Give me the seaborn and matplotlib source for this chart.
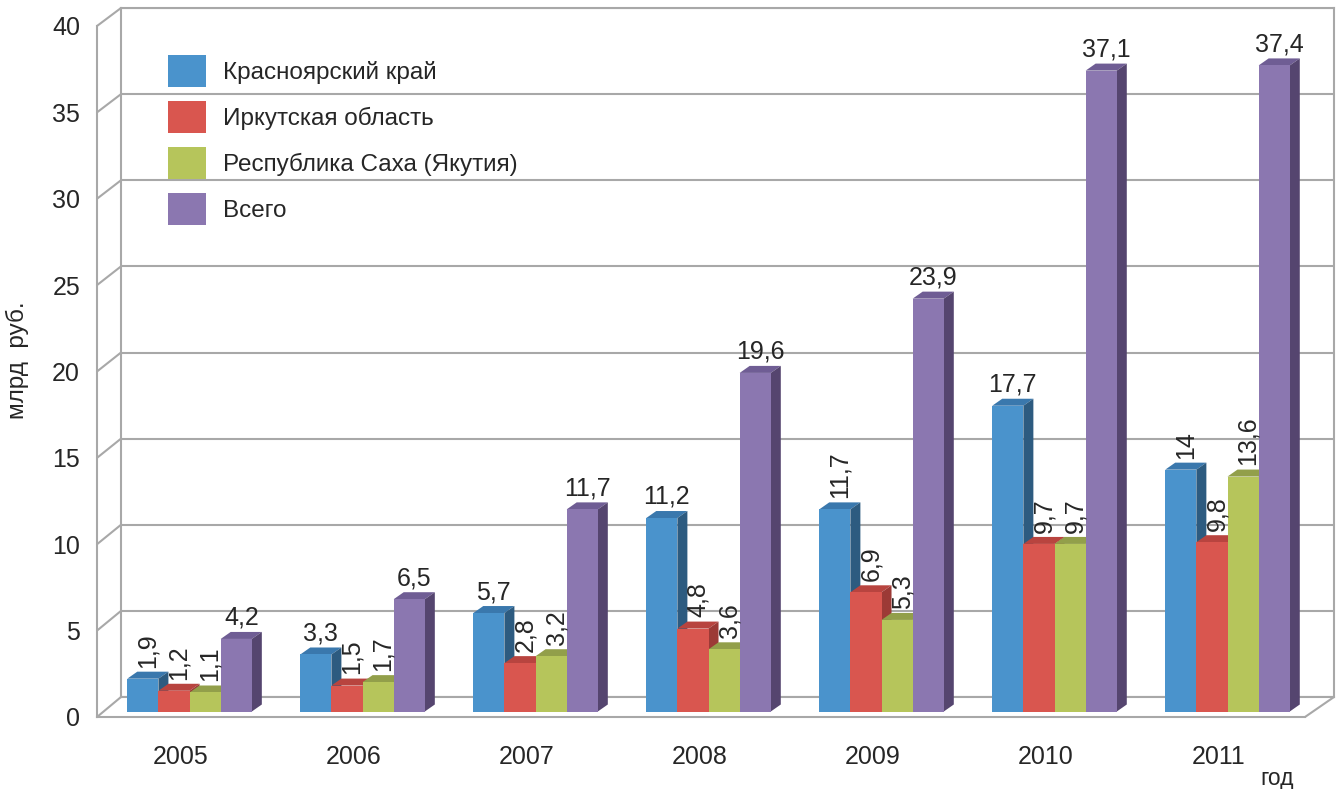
import matplotlib
matplotlib.use("Agg")
import matplotlib.pyplot as plt
import seaborn as sns
import pandas as pd
from matplotlib.patches import Polygon, Patch
from matplotlib.lines import Line2D

# --- data ---
years = ["2005", "2006", "2007", "2008", "2009", "2010", "2011"]
regions = ["Красноярский край", "Иркутская область",
           "Республика Саха (Якутия)", "Всего"]
krasnoyarsk = [1.9, 3.3, 5.7, 11.2, 11.7, 17.7, 14]
irkutsk = [1.2, 1.5, 2.8, 4.8, 6.9, 9.7, 9.8]
sakha = [1.1, 1.7, 3.2, 3.6, 5.3, 9.7, 13.6]
total = [4.2, 6.5, 11.7, 19.6, 23.9, 37.1, 37.4]
y_ticks = list(range(0, 41, 5))

front_colors = ["#4a93cc", "#d9564f", "#b6c55b", "#8b77b0"]
top_colors = ["#3a78ad", "#b8443f", "#929f4a", "#6f5d94"]
side_colors = ["#2d5b80", "#9c3a36", "#7e8b3e", "#55456f"]
grid_col = "#a8a8a8"

series = [krasnoyarsk, irkutsk, sakha, total]
df = pd.DataFrame({
    "год": years * 4,
    "регион": [r for r in regions for _ in years],
    "значение": krasnoyarsk + irkutsk + sakha + total,
})

sns.set_style("white")
plt.rcParams["font.family"] = ["Liberation Sans", "DejaVu Sans"]

W, H = 1340, 789
fig = plt.figure(figsize=(W / 100, H / 100), dpi=100)


def box(l, t, r, b):
    return [l / W, 1 - b / H, (r - l) / W, (b - t) / H]


ax_back = fig.add_axes(box(121, 8, 1334, 697), zorder=0)
ax = fig.add_axes(box(97, 26, 1305, 717), zorder=1)
ax_bar = fig.add_axes(box(106, 20.5, 1314, 711.5), zorder=2)

xlim = (-0.483, 6.5)
ylim = (0, 40)

# back wall
ax_back.set_xlim(xlim)
ax_back.set_ylim(ylim)
ax_back.set_xticks([])
ax_back.set_yticks(y_ticks)
ax_back.set_yticklabels([])
ax_back.tick_params(length=0)
ax_back.grid(axis="y", color=grid_col, lw=1.5)
for s in ax_back.spines.values():
    s.set_color(grid_col)
    s.set_linewidth(1.5)

# front plane with axes
ax.set_facecolor("none")
ax.set_xlim(xlim)
ax.set_ylim(ylim)
ax.set_yticks(y_ticks)
ax.set_xticks(range(len(years)))
ax.set_xticklabels(years)
ax.set_xticks([xlim[0]] + [i + 0.5 for i in range(len(years))], minor=True)
ax.tick_params(axis="y", length=7.2, width=1.2, color=grid_col, pad=5, labelsize=18)
ax.tick_params(axis="x", which="major", length=0, pad=20, labelsize=18)
ax.tick_params(axis="x", which="minor", length=8, width=1.2, color=grid_col, direction="out")
for side in ["top", "right"]:
    ax.spines[side].set_visible(False)
for side in ["left", "bottom"]:
    ax.spines[side].set_color(grid_col)
    ax.spines[side].set_linewidth(1.5)


def link(p, q):
    inv = fig.transFigure.inverted()
    a, b = inv.transform(p), inv.transform(q)
    fig.add_artist(Line2D([a[0], b[0]], [a[1], b[1]], transform=fig.transFigure,
                          color=grid_col, lw=1.5, zorder=0.5))


for t in y_ticks:
    link(ax.transData.transform((xlim[0], t)), ax_back.transData.transform((xlim[0], t)))
link(ax.transData.transform((xlim[1], 0)), ax_back.transData.transform((xlim[1], 0)))

# bars
sns.barplot(data=df, x="год", y="значение", hue="регион", hue_order=regions,
            palette=front_colors, width=0.72, saturation=1, linewidth=0,
            legend=False, ax=ax_bar)
ax_bar.set_xlim(xlim)
ax_bar.set_ylim(ylim)
ax_bar.axis("off")

ddx = 10 * (xlim[1] - xlim[0]) / 1208
ddy = 7 * (ylim[1] - ylim[0]) / 691

rotated = [{0, 4, 6}, set(range(7)), set(range(7)), set()]

for k, cont in enumerate(ax_bar.containers):
    for j, bar in enumerate(cont):
        x, w, h = bar.get_x(), bar.get_width(), bar.get_height()
        bar.set_zorder(3 + 2 * k)
        top = Polygon([(x, h), (x + w, h), (x + w + ddx, h + ddy), (x + ddx, h + ddy)],
                      closed=True, fc=top_colors[k], ec="none", zorder=2 + 2 * k, clip_on=False)
        side = Polygon([(x + w, 0), (x + w + ddx, ddy), (x + w + ddx, h + ddy), (x + w, h)],
                       closed=True, fc=side_colors[k], ec="none", zorder=2 + 2 * k, clip_on=False)
        ax_bar.add_patch(top)
        ax_bar.add_patch(side)
        v = series[k][j]
        lab = f"{v:g}".replace(".", ",")
        rot = j in rotated[k]
        ax_bar.annotate(lab, (x + w / 2 + ddx / 2, h), xytext=(0, 8 if rot else 6.5),
                        textcoords="offset points", ha="center", va="bottom",
                        rotation=90 if rot else 0, fontsize=18, zorder=20,
                        annotation_clip=False)

handles = [Patch(facecolor=c, edgecolor="none") for c in front_colors]
ax_bar.legend(handles, regions, loc="upper left", bbox_to_anchor=(168 / W, 1 - 55 / H),
              bbox_transform=fig.transFigure, frameon=False, fontsize=17.5,
              handlelength=1.56, handleheight=1.65, handletextpad=0.7,
              labelspacing=0.58, borderpad=0, borderaxespad=0)

fig.text(17 / W, 1 - 360 / H, "млрд  руб.", rotation=90, ha="center", va="center", fontsize=17.5)
fig.text(1277 / W, 1 - 778 / H, "год", ha="center", va="center", fontsize=16.5)

fig.savefig("out.png", dpi=100)
